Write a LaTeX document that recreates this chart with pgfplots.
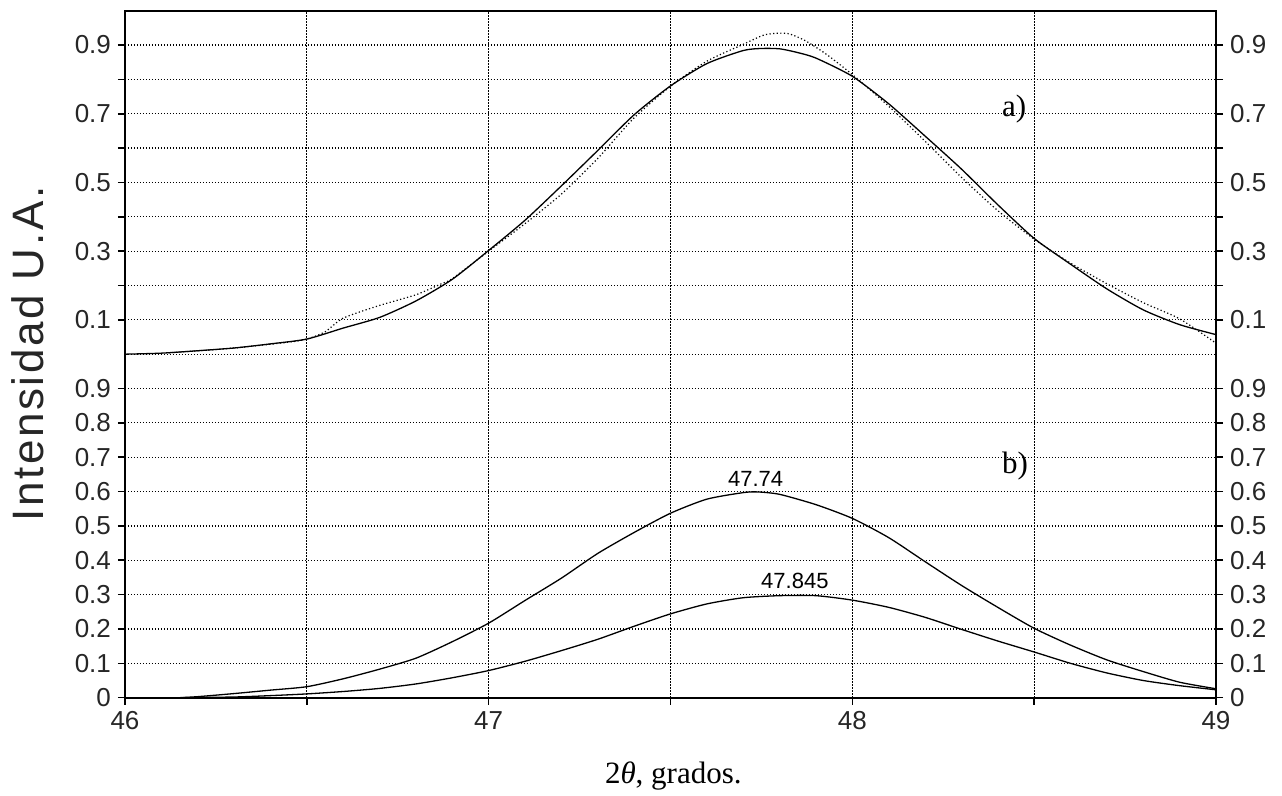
\documentclass[border=0pt]{standalone}
\usepackage{fontspec}
\setmainfont{Liberation Sans}
\newfontfamily\timesfont{Liberation Serif}
\newfontfamily\labelfont[LetterSpace=6]{Liberation Sans}
\usepackage{pgfplots}
\pgfplotsset{compat=1.18}

\pgfplotstableread{
x y
46.00 1.000
46.10 1.003
46.20 1.010
46.30 1.018
46.40 1.030
46.50 1.044
46.60 1.076
46.70 1.107
46.80 1.155
46.90 1.218
47.00 1.302
47.10 1.390
47.20 1.490
47.30 1.593
47.40 1.697
47.50 1.781
47.60 1.846
47.70 1.884
47.75 1.890
47.80 1.889
47.85 1.878
47.90 1.862
48.00 1.809
48.10 1.729
48.20 1.635
48.30 1.539
48.40 1.435
48.50 1.337
48.60 1.262
48.70 1.190
48.80 1.129
48.90 1.086
49.00 1.057
}\fitA

\pgfplotstableread{
x y
46.12 1.004
46.30 1.018
46.45 1.035
46.50 1.044
46.55 1.065
46.60 1.105
46.70 1.142
46.80 1.173
46.87 1.205
46.90 1.220
47.00 1.300
47.10 1.380
47.20 1.466
47.30 1.570
47.40 1.688
47.50 1.780
47.60 1.853
47.70 1.902
47.76 1.930
47.82 1.934
47.87 1.913
47.93 1.872
48.00 1.814
48.10 1.722
48.20 1.620
48.30 1.515
48.40 1.418
48.50 1.335
48.60 1.265
48.70 1.205
48.80 1.150
48.90 1.103
49.00 1.032
}\dataA

\pgfplotstableread{
x y
46.15 0.000
46.20 0.003
46.30 0.012
46.40 0.022
46.50 0.032
46.60 0.055
46.70 0.083
46.80 0.115
46.90 0.163
47.00 0.217
47.10 0.283
47.20 0.348
47.30 0.420
47.40 0.481
47.50 0.537
47.60 0.578
47.70 0.597
47.74 0.599
47.80 0.592
47.90 0.562
48.00 0.522
48.10 0.466
48.20 0.396
48.30 0.327
48.40 0.263
48.50 0.202
48.60 0.153
48.70 0.110
48.80 0.076
48.90 0.045
49.00 0.026
}\peakB

\pgfplotstableread{
x y
46.15 0.000
46.30 0.002
46.40 0.006
46.50 0.011
46.60 0.018
46.70 0.027
46.80 0.040
46.90 0.058
47.00 0.079
47.10 0.106
47.20 0.137
47.30 0.170
47.40 0.208
47.50 0.244
47.60 0.273
47.70 0.291
47.80 0.297
47.90 0.297
48.00 0.284
48.10 0.263
48.20 0.234
48.30 0.199
48.40 0.165
48.50 0.133
48.60 0.100
48.70 0.072
48.80 0.050
48.90 0.035
49.00 0.023
}\peakC

\pgfplotsset{
  basestyle/.style={
    scale only axis, width=545.5pt, height=343.5pt,
    xmin=46, xmax=49, ymin=0, ymax=2,
    at={(0,0)}, anchor=south west,
    xtick={46,46.5,...,49},
    ytick={0,0.1,0.2,0.3,0.4,0.5,0.6,0.7,0.8,0.9,1.1,1.2,1.3,1.4,1.5,1.6,1.7,1.8,1.9},
    yticklabels={0,0.1,0.2,0.3,0.4,0.5,0.6,0.7,0.8,0.9,0.1,,0.3,,0.5,,0.7,,0.9},
    tick align=outside, major tick length=3.5pt,
    tick style={black, line width=0.8pt},
    axis line style={black, line width=1pt},
    ticklabel style={font=\fontsize{13}{15}\selectfont, text=black!85},
    /pgf/number format/assume math mode=true,
  }
}

\begin{document}
\begin{tikzpicture}
\path[use as bounding box] (-62.5pt,-49.15pt) rectangle (578.5pt,348.85pt);
\begin{axis}[basestyle,
  xtick pos=left, ytick pos=left,
  xticklabels={46,,47,,48,,49},
  grid=major,
  major grid style={black, line width=0.6pt, dash pattern=on 0.6pt off 0.9pt},
  extra y ticks={1}, extra y tick labels={},
  extra y tick style={major tick length=0pt, grid=major},
  xlabel={{\timesfont 2\textit{θ}, grados.}},
  every axis x label/.style={at={(axis description cs:0.5026,-0.1246)}, anchor=base, font=\fontsize{15.5}{18}\selectfont},
  ylabel={\labelfont Intensidad U.A.},
  every axis y label/.style={at={(axis description cs:-0.0889,0.5)}, rotate=90, anchor=center, font=\fontsize{22}{26}\selectfont, text=black!85},
]
\addplot[black, line width=0.6pt, dash pattern=on 0.6pt off 1.2pt, smooth, tension=0.4] table {\dataA};
\addplot[black, line width=0.65pt, smooth, tension=0.4] table {\fitA};
\addplot[black, line width=0.65pt, smooth, tension=0.4] table {\peakB};
\addplot[black, line width=0.65pt, smooth, tension=0.4] table {\peakC};
\node[font=\fontsize{11}{13}\selectfont, anchor=base, inner sep=0pt] at (axis cs:47.734,0.614) {47.74};
\node[font=\fontsize{11}{13}\selectfont, anchor=base, inner sep=0pt] at (axis cs:47.842,0.318) {47.845};
\node[font=\timesfont\fontsize{15.5}{18}\selectfont, anchor=base east, inner sep=0pt] at (axis cs:48.479,1.693) {a)};
\node[font=\timesfont\fontsize{15.5}{18}\selectfont, anchor=base east, inner sep=0pt] at (axis cs:48.484,0.653) {b)};
\end{axis}
\begin{axis}[basestyle,
  axis x line=none, axis y line*=right,
  xtick=\empty,
]
\end{axis}
\end{tikzpicture}
\end{document}
